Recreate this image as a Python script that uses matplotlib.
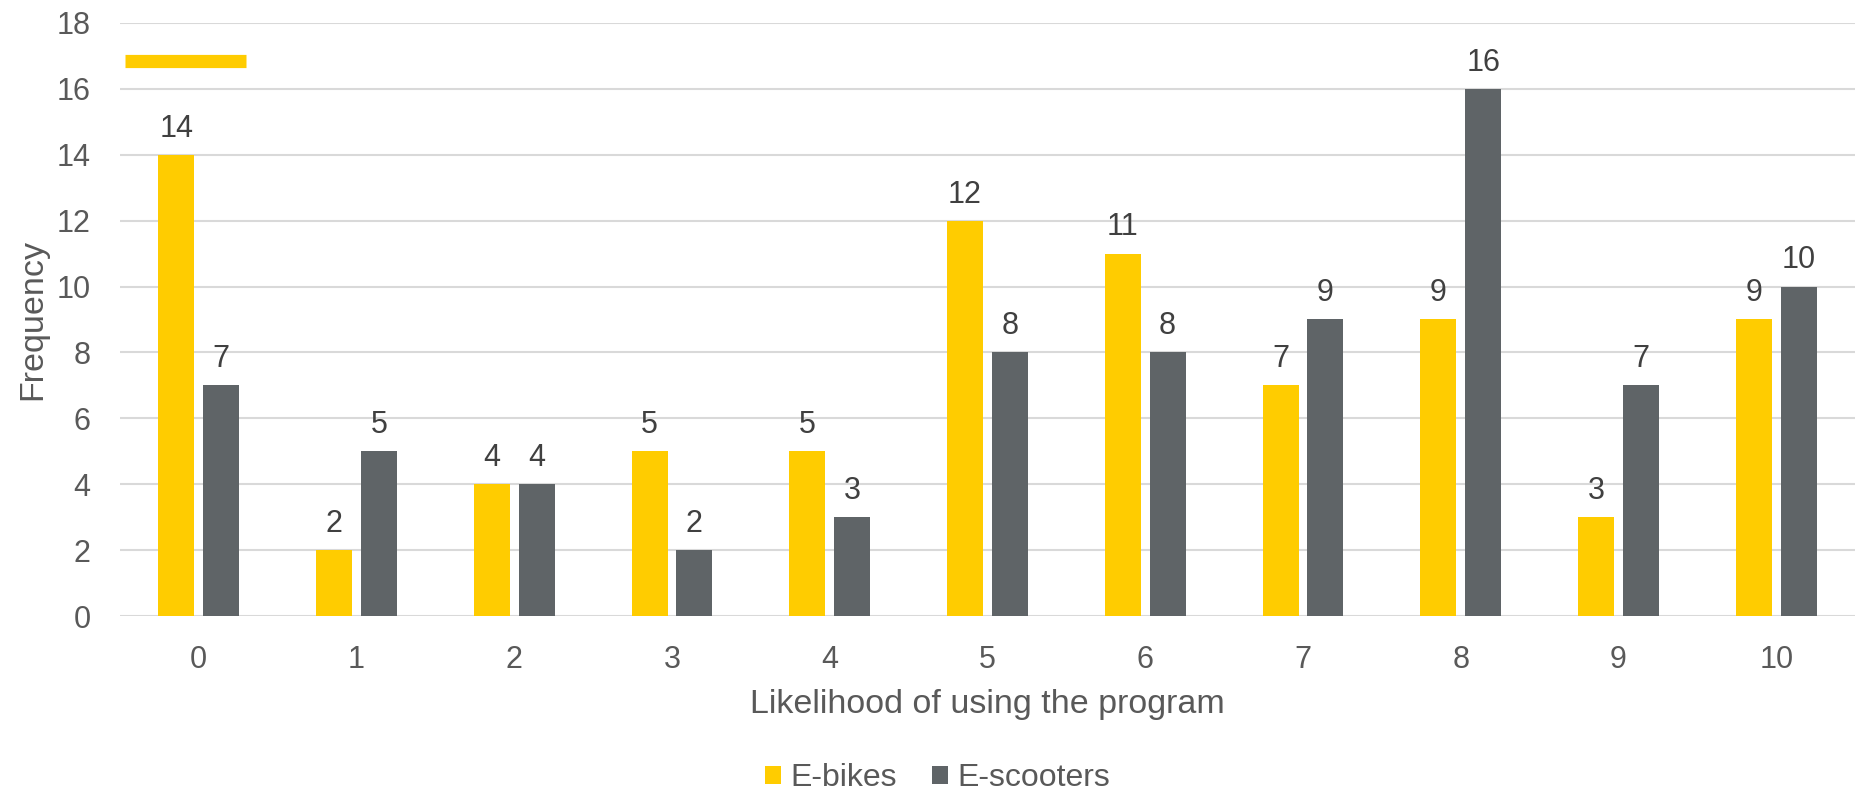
import matplotlib

matplotlib.use("Agg")
import matplotlib.pyplot as plt
import numpy as np

plt.rcParams["font.family"] = ["Liberation Sans", "DejaVu Sans"]

likelihood = ["0", "1", "2", "3", "4", "5", "6", "7", "8", "9", "10"]
ebikes = [14, 2, 4, 5, 5, 12, 11, 7, 9, 3, 9]
escooters = [7, 5, 4, 2, 3, 8, 8, 9, 16, 7, 10]

YELLOW = "#FFCC00"
GREY = "#5F6467"
TEXT = "#595959"
LABEL = "#404040"

fig = plt.figure(figsize=(18.57, 7.91), dpi=100)
ax = fig.add_axes([0.0645, 0.2212, 0.9345, 0.7498])

x = np.arange(len(likelihood))
width = 0.228
offset = 0.142
bars_e = ax.bar(x - offset, ebikes, width, color=YELLOW, label="E-bikes", zorder=3)
bars_s = ax.bar(x + offset, escooters, width, color=GREY, label="E-scooters", zorder=3)

for bars in (bars_e, bars_s):
    for rect in bars:
        h = rect.get_height()
        ax.annotate(f"{h:g}", (rect.get_x() + rect.get_width() / 2, h),
                    xytext=(0, 8), textcoords="offset points",
                    ha="center", va="bottom", fontsize=22, color=LABEL)

# short yellow dash near the top-left corner
ax.plot([0.003, 0.073], [0.935, 0.935], transform=ax.transAxes,
        color=YELLOW, lw=9.5, solid_capstyle="butt", clip_on=False, zorder=4)

ax.set_xlim(-0.5, len(likelihood) - 0.5)
ax.set_ylim(0, 18)
ax.set_yticks(range(0, 19, 2))
ax.set_xticks(x)
ax.set_xticklabels(likelihood)
ax.tick_params(axis="both", length=0, labelsize=22, labelcolor=TEXT)
ax.tick_params(axis="x", pad=21)
ax.tick_params(axis="y", pad=21)
ax.grid(axis="y", color="#D9D9D9", lw=1.5, zorder=0)
for side in ax.spines.values():
    side.set_visible(False)

ax.set_xlabel("Likelihood of using the program", fontsize=24.5, color=TEXT, labelpad=10)
ax.set_ylabel("Frequency", fontsize=24.5, color=TEXT, labelpad=6)

fig.legend(loc="center", bbox_to_anchor=(0.505, 0.016), ncol=2, frameon=False,
           fontsize=23, labelcolor=TEXT, handlelength=0.5, handleheight=0.5,
           handletextpad=0.3, columnspacing=1.1)

fig.savefig("out.png", dpi=100)
